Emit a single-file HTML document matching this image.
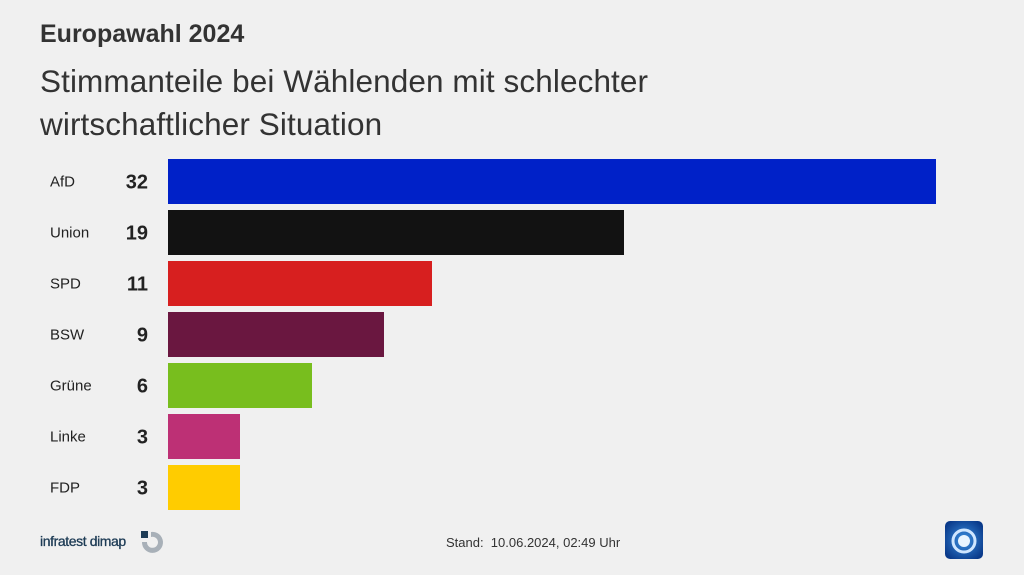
<!DOCTYPE html>
<html><head><meta charset="utf-8"><style>
body{margin:0;width:1024px;height:575px;background:#f0f0f0;font-family:"Liberation Sans",sans-serif;position:relative;overflow:hidden;color:#222}
.t1{position:absolute;left:40px;top:20px;font-size:25px;font-weight:bold;color:#333}
.t2{position:absolute;left:40px;top:60px;font-size:31.5px;line-height:43px;color:#333;width:720px;letter-spacing:0.1px}
.foot{position:absolute;top:535px;left:446px;font-size:13px;color:#333}
.brand{position:absolute;left:40px;top:533px;font-size:14px;color:#1d3b55;letter-spacing:-0.4px;-webkit-text-stroke:0.3px #1d3b55}
</style></head><body>
<div class="t1">Europawahl 2024</div>
<div class="t2">Stimmanteile bei Wählenden mit schlechter<br>wirtschaftlicher Situation</div>
<svg id="chart" width="1024" height="575" style="position:absolute;left:0;top:0"></svg>
<div class="brand">infratest dimap</div>
<svg style="position:absolute;left:140px;top:530px" width="26" height="26">
<rect x="1" y="1" width="7" height="7" fill="#1d3b55"/>
<path d="M11 2 A10.5 10.5 0 1 1 2 12 L7 12 A5.5 5.5 0 1 0 11 7 Z" fill="#a8b0b8"/>
</svg>
<div class="foot">Stand:&nbsp; 10.06.2024, 02:49 Uhr</div>
<svg style="position:absolute;left:944px;top:520px" width="40" height="40">
<defs><radialGradient id="g" cx="50%" cy="50%" r="60%"><stop offset="0" stop-color="#3a8ee0"/><stop offset="1" stop-color="#0a3a8a"/></radialGradient></defs>
<rect x="1" y="1" width="38" height="38" rx="5" fill="url(#g)"/>
<circle cx="20" cy="21" r="11" fill="none" stroke="#cfe6ff" stroke-width="3"/>
<circle cx="20" cy="21" r="6" fill="#e8f4ff"/>
</svg>
<script>
const categories=["AfD","Union","SPD","BSW","Grüne","Linke","FDP"];
const values=[32,19,11,9,6,3,3];
const colors=["#0021c8","#121212","#d71f1f","#6a1740","#78be1e","#bd3075","#ffcc00"];
const svg=document.getElementById('chart');
const NS="http://www.w3.org/2000/svg";
const x0=168,scale=24,y0=159,pitch=51,bh=45;
function xLen(v){return v*scale;}
function yPos(i){return y0+i*pitch;}
categories.forEach((c,i)=>{
  const r=document.createElementNS(NS,'rect');
  r.setAttribute('x',x0);r.setAttribute('y',yPos(i));
  r.setAttribute('width',xLen(values[i]));r.setAttribute('height',bh);
  r.setAttribute('fill',colors[i]);
  
  
  svg.appendChild(r);
  const l=document.createElementNS(NS,'text');
  l.setAttribute('x',50);l.setAttribute('y',yPos(i)+bh/2+5);
  l.setAttribute('font-size','15');l.setAttribute('fill','#222');
  l.textContent=c;
  
  
  svg.appendChild(l);
  const v=document.createElementNS(NS,'text');
  v.setAttribute('x',148);v.setAttribute('y',yPos(i)+bh/2+7);
  v.setAttribute('text-anchor','end');v.setAttribute('font-size','20');v.setAttribute('font-weight','bold');v.setAttribute('fill','#222');
  v.textContent=values[i];
  
  
  svg.appendChild(v);
});
</script>
</body></html>
